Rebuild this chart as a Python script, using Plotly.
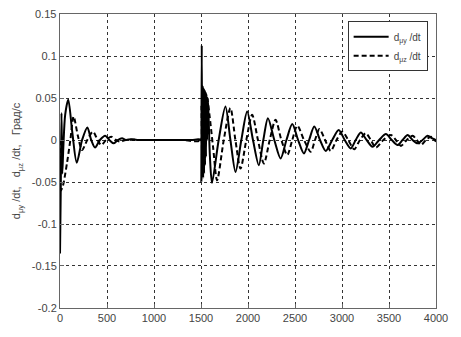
import plotly.graph_objects as go

# dμy/dt (solid)
t_y = [0, 8, 16, 24, 35, 55, 88, 130, 178, 235, 291, 332, 373, 425, 480, 525, 570, 615, 660, 700, 760, 820,
       1000, 1200, 1400, 1500,
       1503, 1508, 1513, 1518, 1523, 1528, 1533, 1538, 1543, 1548, 1553, 1558, 1565, 1572, 1580, 1595, 1617,
       1688, 1760, 1813, 1867, 1929, 1991, 2053, 2115, 2163, 2212, 2280, 2347, 2409, 2471, 2533, 2595, 2650,
       2705, 2766, 2827, 2896, 2965, 3029, 3093, 3146, 3200, 3262, 3324, 3395, 3467, 3529, 3591, 3644, 3698,
       3751, 3804, 3857, 3911, 3960, 4000]
v_y = [-0.135, -0.06, 0.032, -0.04, -0.01, 0.03, 0.048, 0.01, -0.027, 0.0, 0.015, 0.0, -0.009, 0.0, 0.005, 0.0,
       -0.004, 0.0, 0.002, 0.0, 0.001, 0.0,
       0.0, 0.0, 0.0, 0.0,
       -0.05, 0.113, -0.045, 0.065, -0.045, 0.062, -0.04, 0.06, -0.03, 0.058, -0.02, 0.055, 0.0, 0.05, 0.03, -0.02,
       -0.051,
       0.0, 0.040, 0.0, -0.038, 0.0, 0.034, 0.0, -0.030, 0.0, 0.026, 0.0, -0.022, 0.0, 0.019, 0.0, -0.016, 0.0,
       0.016, 0.0, -0.013, 0.0, 0.012, 0.0, -0.010, 0.0, 0.009, 0.0, -0.008, 0.0, 0.007, 0.0, -0.006, 0.0, 0.006,
       0.0, -0.004, 0.0, 0.005, 0.002, 0.0]

# dμz/dt (dashed)
t_z = [0, 10, 30, 75, 110, 145, 190, 235, 290, 350, 400, 440, 490, 545, 595, 640, 700, 900, 1100, 1300, 1500,
       1505, 1512, 1518, 1525, 1532, 1540, 1550, 1565, 1590, 1630,
       1671, 1742, 1813, 1866, 1920, 1982, 2044, 2106, 2169, 2231, 2293, 2355, 2418, 2471, 2525, 2596,
       2667, 2713, 2760, 2820, 2880, 2942, 3004, 3066, 3129, 3191, 3253, 3306, 3360, 3440, 3520, 3573,
       3627, 3689, 3751, 3795, 3840, 3893, 3947, 4000]
v_z = [0.0, -0.06, -0.055, -0.027, 0.0, 0.028, 0.005, -0.012, 0.0, 0.01, 0.0, -0.006, 0.0, 0.004, 0.0, -0.002,
       0.0, 0.0, 0.0, 0.0, 0.0,
       0.04, -0.03, 0.045, -0.02, 0.04, -0.01, 0.04, 0.05, 0.03, -0.01,
       -0.048, 0.0, 0.038, 0.0, -0.034, 0.0, 0.030, 0.0, -0.028, 0.0, 0.024, 0.0, -0.018, 0.0, 0.017, 0.0,
       -0.014, 0.0, 0.013, 0.0, -0.013, 0.0, 0.010, 0.0, -0.011, 0.0, 0.008, 0.0, -0.009, 0.0, 0.006, 0.0,
       -0.007, 0.0, 0.005, 0.0, -0.006, 0.0, 0.004, -0.002]

x_ticks = [0, 500, 1000, 1500, 2000, 2500, 3000, 3500, 4000]
y_ticks = [-0.2, -0.15, -0.1, -0.05, 0, 0.05, 0.1, 0.15]
y_labels = ["-0.2", "-0.15", "-0.1", "-0.05", "0", "0.05", "0.1", "0.15"]

font = "Liberation Sans, Arial, sans-serif"

fig = go.Figure()
fig.add_trace(go.Scatter(x=t_y, y=v_y, mode="lines", name="d<sub>μy</sub> /dt",
                         line=dict(color="black", width=2, shape="spline", smoothing=0.8)))
fig.add_trace(go.Scatter(x=t_z, y=v_z, mode="lines", name="d<sub>μz</sub> /dt",
                         line=dict(color="black", width=2, dash="5px,3px", shape="spline", smoothing=0.8)))

axis_common = dict(showline=True, linecolor="#666", linewidth=1, mirror=True,
                   showgrid=True, gridcolor="#333", griddash="dot", gridwidth=1,
                   ticks="inside", ticklen=4, tickcolor="#666", zeroline=False,
                   automargin=False,
                   tickfont=dict(family=font, size=11, color="#444"))

fig.update_xaxes(range=[0, 4000], tickvals=x_ticks, **axis_common)
fig.update_yaxes(range=[-0.20001, 0.15001], tickvals=y_ticks, ticktext=y_labels,
                 title=dict(text="d<sub>μy</sub> /dt,   d<sub>μz</sub> /dt,   Град/с      ",
                            font=dict(family=font, size=11, color="#444"), standoff=8),
                 **axis_common)

# top tick label sits at the very edge of the page, so it is drawn as an annotation
fig.add_annotation(x=0, xref="paper", xanchor="right", xshift=-2,
                   y=y_ticks[-1], yref="y", yanchor="middle",
                   text=y_labels[-1], showarrow=False,
                   font=dict(family=font, size=11, color="#444"))

# the page body adds an 8px offset, so the figure is sized to fit the 461x337 window
fig.update_layout(
    width=453, height=329,
    margin=dict(l=52, r=25, t=6, b=29),
    plot_bgcolor="white", paper_bgcolor="white",
    showlegend=True,
    legend=dict(x=0.765, y=0.975, xanchor="left", yanchor="top",
                bgcolor="white", bordercolor="#333", borderwidth=1,
                font=dict(family=font, size=10, color="#444"),
                itemwidth=35, tracegroupgap=2),
)

fig.write_html("out.html")
